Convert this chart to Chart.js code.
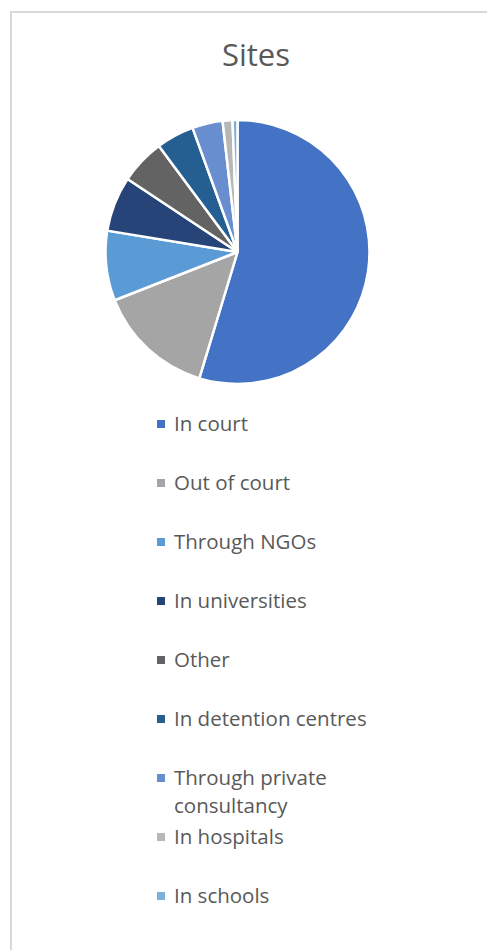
<!DOCTYPE html>
<html>
<head>
<meta charset="utf-8">
<title>Sites</title>
<script src="https://cdn.jsdelivr.net/npm/chart.js"></script>
<style>
  body { margin:0; background:#fff; font-family:"Open Sans", sans-serif; }
  #frame { position:absolute; left:10px; top:11px; width:500px; height:960px; border:2px solid #d9d9d9; }
  #pie { position:absolute; left:0; top:0; }
  #title { position:absolute; left:156px; width:200px; top:39px; text-align:center;
           font-size:31px; line-height:31px; color:#595959; }
  #legend { position:absolute; left:157px; top:409px; margin:0; padding:0; list-style:none; }
  #legend li { position:relative; height:59px; }
  #legend .box { position:absolute; left:0; top:11px; width:8px; height:8px; }
  #legend .txt { position:absolute; left:17px; top:0; width:220px;
                 font-size:20.5px; line-height:28px; color:#595959; }
</style>
</head>
<body>
<div id="frame"></div>
<div id="title">Sites</div>
<canvas id="pie" width="487" height="400"></canvas>
<ul id="legend"></ul>
<script>
// sites where the work happens, share in %
var sites = ["In court","Out of court","Through NGOs","In universities","Other",
             "In detention centres","Through private consultancy","In hospitals","In schools"];
var shares = [54.4, 14.3, 8.5, 6.7, 5.5, 4.6, 3.7, 1.2, 0.6];
var colors = ['#4472C4','#A5A5A5','#5B9BD5','#264478','#636363',
              '#255E91','#698ED0','#B7B7B7','#7CAFDD'];

// builds the list under the pie from the chart's own legend items
var htmlLegend = {
  id: 'htmlLegend',
  afterUpdate: function(chart){
    var ul = document.getElementById('legend');
    ul.innerHTML = '';
    var items = chart.options.plugins.legend.labels.generateLabels(chart);
    items.forEach(function(it){
      var li = document.createElement('li');
      var b = document.createElement('span');
      b.className = 'box';
      b.style.background = it.fillStyle;
      var t = document.createElement('span');
      t.className = 'txt';
      t.textContent = it.text;
      li.appendChild(b);
      li.appendChild(t);
      ul.appendChild(li);
    });
  }
};

var ctx = document.getElementById('pie').getContext('2d');
var chart = new Chart(ctx, {
  type: 'pie',
  data: {
    labels: sites,
    datasets: [{
      data: shares,
      backgroundColor: colors,
      borderColor: '#ffffff',
      borderWidth: 2.5,
      radius: 132
    }]
  },
  options: {
    responsive: false,
    animation: false,
    events: [],
    layout: { padding: { left: 105.5, right: 117.5, top: 120, bottom: 16 } },
    plugins: {
      legend: { display: false },
      tooltip: { enabled: false }
    }
  },
  plugins: [htmlLegend]
});
</script>
</body>
</html>
